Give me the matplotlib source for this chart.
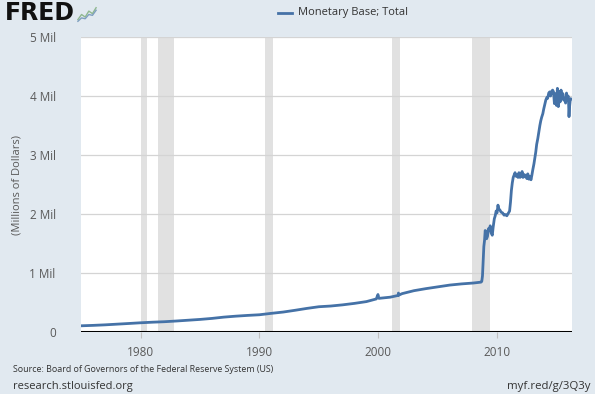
import pandas as pd
import numpy as np
import matplotlib
matplotlib.use('Agg')
from matplotlib import pyplot as plt

# Monetary base, in millions of dollars (units of 1 Mil)
dates = ['1975-01-01', '1976-01-01', '1977-01-01', '1978-01-01', '1979-01-01', '1980-01-01',
         '1981-01-01', '1982-01-01', '1983-01-01', '1984-01-01', '1985-01-01', '1986-01-01',
         '1987-01-01', '1988-01-01', '1989-01-01', '1990-01-01', '1991-01-01', '1992-01-01',
         '1993-01-01', '1994-01-01', '1995-01-01', '1996-01-01', '1997-01-01', '1998-01-01',
         '1999-01-01', '1999-11-01', '1999-12-22', '2000-01-19', '2001-01-03', '2001-09-05',
         '2001-09-12', '2001-09-26', '2002-01-02', '2003-01-01', '2004-01-07', '2005-01-05',
         '2006-01-04', '2007-01-03', '2008-01-02', '2008-08-27', '2008-09-17', '2008-10-08',
         '2008-10-29', '2008-11-19', '2008-12-10', '2008-12-31', '2009-01-21', '2009-02-11',
         '2009-03-11', '2009-04-08', '2009-05-06', '2009-06-03', '2009-07-01', '2009-08-05',
         '2009-09-02', '2009-10-07', '2009-11-04', '2009-12-02', '2009-12-30', '2010-01-27',
         '2010-02-24', '2010-03-24', '2010-05-05', '2010-06-16', '2010-08-04', '2010-09-15',
         '2010-10-27', '2010-12-08', '2011-01-19', '2011-02-16', '2011-03-16', '2011-04-13',
         '2011-05-11', '2011-06-08', '2011-07-06', '2011-08-03', '2011-09-07', '2011-10-05',
         '2011-11-02', '2011-12-07', '2012-01-04', '2012-02-08', '2012-03-07', '2012-04-04',
         '2012-05-02', '2012-06-06', '2012-07-04', '2012-08-01', '2012-09-05', '2012-10-03',
         '2012-11-07', '2012-12-05', '2013-01-02', '2013-02-06', '2013-03-06', '2013-04-03',
         '2013-05-01', '2013-06-05', '2013-07-03', '2013-08-07', '2013-09-04', '2013-10-02',
         '2013-11-06', '2013-12-04', '2014-01-01', '2014-02-05', '2014-03-05', '2014-04-02',
         '2014-05-07', '2014-06-04', '2014-07-02', '2014-08-06', '2014-09-03', '2014-10-01',
         '2014-10-29', '2014-11-26', '2014-12-31', '2015-01-28', '2015-02-25', '2015-03-25',
         '2015-04-22', '2015-05-20', '2015-06-17', '2015-07-15', '2015-08-12', '2015-09-09',
         '2015-10-07', '2015-11-04', '2015-12-02', '2015-12-23', '2016-01-06', '2016-01-20',
         '2016-02-03', '2016-02-24', '2016-03-23']
base = [0.105, 0.112, 0.121, 0.132, 0.144, 0.156,
        0.166, 0.174, 0.186, 0.200, 0.213, 0.230,
        0.252, 0.268, 0.281, 0.292, 0.316, 0.338,
        0.368, 0.400, 0.428, 0.440, 0.460, 0.485,
        0.515, 0.560, 0.635, 0.570, 0.590, 0.620,
        0.660, 0.625, 0.650, 0.700, 0.735, 0.765,
        0.795, 0.815, 0.830, 0.845, 0.860, 0.950,
        1.200, 1.450, 1.550, 1.720, 1.660, 1.580,
        1.620, 1.750, 1.720, 1.800, 1.680, 1.640,
        1.780, 1.920, 1.970, 2.050, 2.020, 2.150,
        2.080, 2.070, 2.030, 2.020, 1.980, 1.990,
        1.970, 2.010, 2.050, 2.200, 2.400, 2.530,
        2.620, 2.660, 2.700, 2.640, 2.660, 2.620,
        2.700, 2.620, 2.640, 2.720, 2.620, 2.670,
        2.630, 2.660, 2.600, 2.680, 2.590, 2.640,
        2.580, 2.660, 2.750, 2.850, 2.950, 3.050,
        3.180, 3.280, 3.380, 3.500, 3.580, 3.640,
        3.700, 3.780, 3.850, 3.930, 3.970, 3.960,
        4.050, 4.070, 4.000, 4.080, 4.100, 4.070,
        3.870, 4.040, 3.840, 4.130, 3.820, 4.070,
        3.900, 4.100, 3.950, 4.040, 3.930, 3.960,
        3.880, 4.050, 3.930, 4.000, 3.900, 3.650,
        3.800, 3.920, 3.950]

# US recessions (shaded)
rec_start = ['1980-01-01', '1981-07-01', '1990-07-01', '2001-03-01', '2007-12-01']
rec_end = ['1980-07-01', '1982-11-01', '1991-03-01', '2001-11-01', '2009-06-01']

y_ticks = [0, 1, 2, 3, 4, 5]
y_labels = ['0', '1 Mil', '2 Mil', '3 Mil', '4 Mil', '5 Mil']
x_years = [1980, 1990, 2000, 2010]

BG = '#e1e9f0'
LINE = '#4572a7'
TXT = '#595959'
plt.rcParams['font.family'] = ['Open Sans', 'DejaVu Sans']

df = pd.DataFrame({'date': pd.to_datetime(dates), 'base': base})

fig = plt.figure(figsize=(5.95, 3.94), dpi=100, facecolor=BG)
ax = fig.add_axes([0.1356, 0.1574, 0.8257, 0.7487])
ax.set_facecolor('white')

for s, e in zip(rec_start, rec_end):
    ax.axvspan(pd.Timestamp(s), pd.Timestamp(e), color='#e1e1e1', lw=0, zorder=1)

ax.plot(df['date'], df['base'], color=LINE, linewidth=2.0, zorder=3)

ax.set_xlim(pd.Timestamp('1974-12-15'), pd.Timestamp('2016-04-20'))
ax.set_ylim(0, 5)
ax.set_yticks(y_ticks)
ax.set_yticklabels(y_labels)
ax.set_xticks([pd.Timestamp(str(y) + '-01-01') for y in x_years])
ax.set_xticklabels([str(y) for y in x_years])

ax.grid(axis='y', color='#d4d4d4', linewidth=0.9, zorder=0)
ax.axhline(0, color='black', linewidth=2.2, zorder=4)
for side in ['top', 'right', 'left', 'bottom']:
    ax.spines[side].set_visible(False)
ax.tick_params(axis='y', length=0, pad=18, labelsize=8.5, labelcolor=TXT)
ax.tick_params(axis='x', length=4, color='#c0c0c0', pad=6, labelsize=8.5, labelcolor=TXT)
fig.text(17 / 595, 1 - 185 / 394, '(Millions of Dollars)', fontsize=8, color=TXT,
         rotation=90, ha='center', va='center')

# legend in the header
fig.add_artist(plt.Line2D([278 / 595, 292 / 595], [1 - 13 / 394] * 2, color=LINE, linewidth=2))
fig.text(298 / 595, 1 - 13 / 394, 'Monetary Base; Total', fontsize=8, color='#333333', va='center')

# FRED logo
fig.text(5 / 595, 1 - 13 / 394, 'FRED', fontsize=17, fontweight='heavy', color='#111111',
         va='center', family=['DejaVu Sans'])
icon = fig.add_axes([77 / 595, 1 - 23 / 394, 20 / 595, 17 / 394])
icon.set_facecolor('#dde8d8')
icon_a = [0.2, 0.5, 0.35, 0.7, 0.55, 0.9]
icon_b = [0.1, 0.3, 0.25, 0.5, 0.45, 0.75]
icon.plot(icon_a, color='#8fb88f', linewidth=1)
icon.plot(icon_b, color='#7f9fc0', linewidth=1)
icon.set_ylim(0, 1)
icon.axis('off')

# footer
fig.text(13 / 595, 1 - 370 / 394, 'Source: Board of Governors of the Federal Reserve System (US)',
         fontsize=6.4, color='#333333', va='center')
fig.text(13 / 595, 1 - 386 / 394, 'research.stlouisfed.org', fontsize=8, color='#333333', va='center')
fig.text(590 / 595, 1 - 386 / 394, 'myf.red/g/3Q3y', fontsize=8.2, color='#333333', va='center', ha='right')

fig.savefig('out.png', dpi=100, facecolor=BG)
